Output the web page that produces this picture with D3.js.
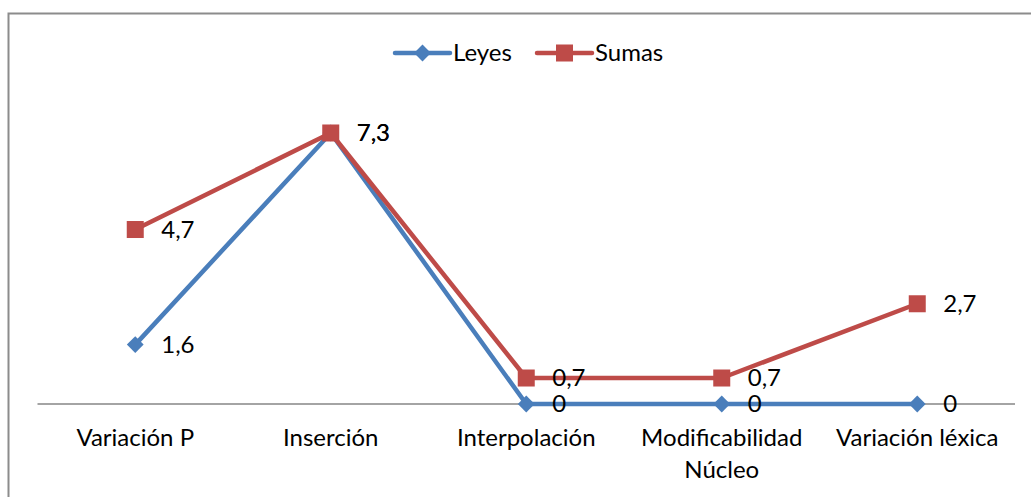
<!DOCTYPE html>
<html>
<head>
<meta charset="utf-8">
<script src="https://cdn.jsdelivr.net/npm/d3@7"></script>
<style>
  body { margin: 0; background: #fff; }
  text { font-family: Lato, "Open Sans", sans-serif; fill: #000; }
</style>
</head>
<body>
<div id="chart"></div>
<script>
var width = 1031, height = 497;

var categories = ["Variación P", "Inserción", "Interpolación", "Modificabilidad Núcleo", "Variación léxica"];
var categoryLines = [["Variación P"], ["Inserción"], ["Interpolación"], ["Modificabilidad", "Núcleo"], ["Variación léxica"]];
var leyes = [1.6, 7.3, 0, 0, 0];
var sumas = [4.7, 7.3, 0.7, 0.7, 2.7];
var seriesNames = ["Leyes", "Sumas"];
var colors = ["#4A7EBB", "#BE4B48"];

var svg = d3.select("#chart")
  .append("svg")
    .attr("width", width)
    .attr("height", height);

// chart frame (only top and left edges visible)
svg.append("path")
  .attr("d", "M8.5,497 V13.5 H1031")
  .attr("fill", "none")
  .attr("stroke", "#8c8c8c")
  .attr("stroke-width", 2);

var x = d3.scaleBand()
  .domain(categories)
  .range([37.5, 1015])
  .paddingInner(0)
  .paddingOuter(0);

var y = d3.scaleLinear()
  .domain([0, 8])
  .range([404, 107]);

// x axis line
svg.append("line")
  .attr("x1", 37.5).attr("x2", 1015)
  .attr("y1", y(0)).attr("y2", y(0))
  .attr("stroke", "#868686")
  .attr("stroke-width", 1.5);

// category labels
var cx = function(i) { return x(categories[i]) + x.bandwidth() / 2; };
categoryLines.forEach(function(lines, i) {
  var t = svg.append("text")
    .attr("text-anchor", "middle")
    .attr("x", cx(i))
    .attr("y", 446)
    .style("font-size", "24px");
  lines.forEach(function(l, j) {
    t.append("tspan")
      .attr("x", cx(i))
      .attr("dy", j === 0 ? 0 : 32)
      .text(l);
  });
});

var line = d3.line()
  .x(function(d, i) { return cx(i); })
  .y(function(d) { return y(d); });

var data = [leyes, sumas];

data.forEach(function(vals, s) {
  svg.append("path")
    .datum(vals)
    .attr("d", line)
    .attr("fill", "none")
    .attr("stroke", colors[s])
    .attr("stroke-width", 4.5)
    .attr("stroke-linejoin", "round");
});

function marker(g, s, px, py) {
  if (s === 0) {
    g.append("path")
      .attr("d", d3.symbol().type(d3.symbolDiamond2).size(180)())
      .attr("transform", "translate(" + px + "," + py + ")")
      .attr("fill", colors[0]);
  } else {
    g.append("rect")
      .attr("x", px - 8.5).attr("y", py - 8.5)
      .attr("width", 17).attr("height", 17)
      .attr("fill", colors[1]);
  }
}

var markers = svg.append("g");
data.forEach(function(vals, s) {
  vals.forEach(function(v, i) { marker(markers, s, cx(i), y(v)); });
});

// data labels
data.forEach(function(vals, s) {
  vals.forEach(function(v, i) {
    svg.append("text")
      .attr("x", cx(i) + 26)
      .attr("y", y(v))
      .attr("dy", "0.35em")
      .style("font-size", "24px")
      .text(String(v).replace(".", ","));
  });
});

// legend
var legendX = [395, 537];
seriesNames.forEach(function(name, s) {
  var lx = legendX[s], ly = 53;
  svg.append("line")
    .attr("x1", lx).attr("x2", lx + 55)
    .attr("y1", ly).attr("y2", ly)
    .attr("stroke", colors[s])
    .attr("stroke-width", 4.5)
    .attr("stroke-linecap", "round");
  marker(svg, s, lx + 27.5, ly);
  svg.append("text")
    .attr("x", lx + 58)
    .attr("y", ly)
    .attr("dy", "0.35em")
    .style("font-size", "24px")
    .text(name);
});
</script>
</body>
</html>
